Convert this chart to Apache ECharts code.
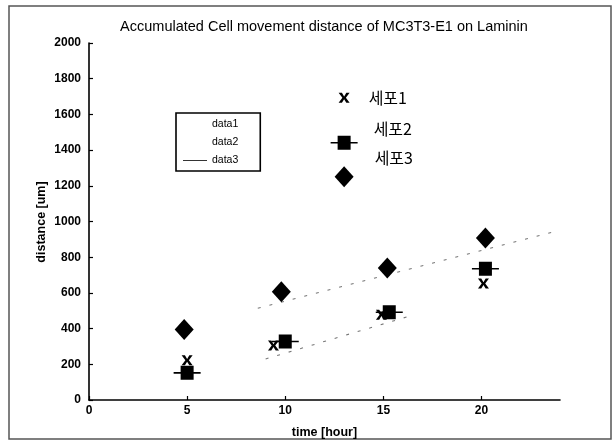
<!DOCTYPE html>
<html>
<head>
<meta charset="utf-8">
<script src="https://cdn.jsdelivr.net/npm/echarts@6/dist/echarts.min.js"></script>
<style>html,body{margin:0;padding:0;background:#fff}#c{width:616px;height:444px}</style>
</head>
<body>
<div id="c"></div>
<script>
// ---- data ----
var titleText = 'Accumulated Cell movement distance of MC3T3-E1 on Laminin';
var xName = 'time [hour]';
var yName = 'distance [um]';
var xTicks = [0, 5, 10, 15, 20];
var yTicks = [0, 200, 400, 600, 800, 1000, 1200, 1400, 1600, 1800, 2000];

var cellNames = ['세포1', '세포2', '세포3'];
var time1 = [5, 9.4, 14.9, 20.1];
var cell1 = [222, 305, 478, 652];
var time2 = [5, 10, 15.3, 20.2];
var cell2 = [152, 328, 492, 735];
var time3 = [4.85, 9.8, 15.2, 20.2];
var cell3 = [395, 607, 740, 908];

// fit lines (visible dotted portions)
var fitLowX = [9.0, 16.4];
var fitLowY = [230, 472];
var fitHighX = [8.6, 23.6];
var fitHighY = [514, 940];

// in-plot key markers
var keyX = [13, 13, 13];
var keyY = [1693, 1441, 1251];

var legendNames = ['data1', 'data2', 'data3'];

// ---- helpers ----
function pairs(xs, ys) { return xs.map(function (x, i) { return [x, ys[i]]; }); }
var xPath = 'path://M0,0 L3,0 L5,3.6 L7,0 L10,0 L6.6,5 L10,10 L7,10 L5,6.4 L3,10 L0,10 L3.4,5 Z';
var sqPath = 'path://M0,6.2 L27,6.2 L27,7.8 L0,7.8 Z M7,0 L20,0 L20,14 L7,14 Z';
var FONT = 'Liberation Sans';

var chart = echarts.init(document.getElementById('c'), null, {renderer: 'canvas'});
var keySymbols = [
  {symbol: xPath, size: [11, 10], offset: [19, 0]},
  {symbol: sqPath, size: [27, 14], offset: [16, -14]},
  {symbol: 'diamond', size: [19, 21], offset: [21, -19]}
];
var solid = {color: '#000', opacity: 1};

var option = {
  backgroundColor: '#fff',
  animation: false,
  title: {
    text: titleText,
    left: 319, top: 14, textAlign: 'center',
    textStyle: {fontFamily: FONT, fontSize: 14.5, fontWeight: 'normal', color: '#000'}
  },
  legend: {
    orient: 'vertical', left: 176, top: 113,
    padding: [6, 22, 5, 7],
    itemWidth: 24, itemHeight: 10, itemGap: 7,
    backgroundColor: '#fff', borderColor: '#000', borderWidth: 1.6,
    textStyle: {fontFamily: FONT, fontSize: 10.5, color: '#000'},
    selectedMode: false,
    data: [
      {name: legendNames[0], icon: 'none'},
      {name: legendNames[1], icon: 'none'},
      {name: legendNames[2], icon: 'path://M0,4.5 L30,4.5 L30,5.5 L0,5.5 Z', itemStyle: {color: '#000'}}
    ]
  },
  grid: {left: 89, right: 56, top: 43, bottom: 43, containLabel: false},
  xAxis: {
    type: 'value', min: 0, max: 24, interval: 5,
    name: xName, nameLocation: 'middle', nameGap: 26, nameMoveOverlap: false,
    nameTextStyle: {fontFamily: FONT, fontSize: 12.5, fontWeight: 'bold', color: '#000'},
    axisLine: {lineStyle: {color: '#000', width: 1.6}},
    axisTick: {inside: true, length: 4, customValues: xTicks, lineStyle: {color: '#000', width: 1.2}},
    axisLabel: {customValues: xTicks, margin: 5, fontFamily: FONT, fontSize: 12, fontWeight: 'bold', color: '#000',
      formatter: function (v) { return String(v); }},
    splitLine: {show: false}
  },
  yAxis: {
    type: 'value', min: 0, max: 2000, interval: 200,
    axisLine: {lineStyle: {color: '#000', width: 1.6}},
    axisTick: {inside: true, length: 4, customValues: yTicks, lineStyle: {color: '#000', width: 1.2}},
    axisLabel: {customValues: yTicks, margin: 8, fontFamily: FONT, fontSize: 12, fontWeight: 'bold', color: '#000',
      formatter: function (v) { return String(v); }},
    splitLine: {show: false}
  },
  graphic: [{
    type: 'rect', shape: {x: 9, y: 6, width: 602, height: 433},
    style: {fill: 'none', stroke: '#555', lineWidth: 1.5}, silent: true, z: -1
  }, {
    type: 'text', x: 42, y: 222, rotation: Math.PI / 2, silent: true,
    style: {text: yName, align: 'center', verticalAlign: 'middle', fill: '#000',
      font: 'bold 12.5px "Liberation Sans"'}
  }],
  series: [
    {
      name: legendNames[0], type: 'line', data: pairs(fitLowX, fitLowY), symbol: 'none',
      lineStyle: {color: '#777', width: 1.1, type: [3, 9]}, z: 1
    },
    {
      name: legendNames[1], type: 'line', data: pairs(fitHighX, fitHighY), symbol: 'none',
      lineStyle: {color: '#777', width: 1.1, type: [3, 9]}, z: 1
    },
    {
      name: legendNames[2], type: 'line', data: [], symbol: 'none',
      lineStyle: {color: '#000', width: 1}
    },
    {
      name: cellNames[1], type: 'scatter', data: pairs(time2, cell2),
      symbol: sqPath, symbolSize: [27, 14], itemStyle: solid, z: 3
    },
    {
      name: cellNames[0], type: 'scatter', data: pairs(time1, cell1),
      symbol: xPath, symbolSize: [11, 10], itemStyle: solid, z: 4
    },
    {
      name: cellNames[2], type: 'scatter', data: pairs(time3, cell3),
      symbol: 'diamond', symbolSize: [19, 21], itemStyle: solid, z: 3
    },
    {
      name: 'key', type: 'scatter', z: 5,
      data: keyX.map(function (x, i) {
        return {
          value: [x, keyY[i]],
          symbol: keySymbols[i].symbol,
          symbolSize: keySymbols[i].size,
          label: {show: true, position: 'right', distance: 0, offset: keySymbols[i].offset, formatter: cellNames[i]}
        };
      }),
      itemStyle: solid,
      label: {fontFamily: 'Noto Sans CJK KR', fontSize: 16, color: '#000'}
    }
  ]
};
chart.setOption(option);
</script>
</body>
</html>
